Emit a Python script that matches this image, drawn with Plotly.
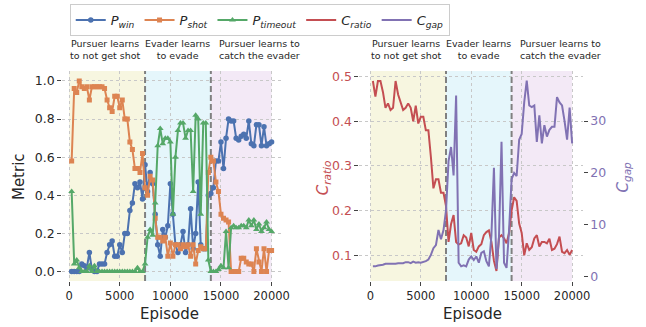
import plotly.graph_objects as go

# ---------------- data ----------------
episodes = list(range(250, 20001, 250))

p_win = [0.00, 0.00, 0.00, 0.00, 0.04, 0.03, 0.02, 0.10, 0.01, 0.00,
         0.00, 0.04, 0.04, 0.04, 0.10, 0.14, 0.16, 0.08, 0.08, 0.14,
         0.10, 0.20, 0.20, 0.32, 0.36, 0.46, 0.44, 0.47, 0.38, 0.56,
         0.42, 0.52, 0.46, 0.30, 0.14, 0.08, 0.22, 0.18, 0.24, 0.46,
         0.30, 0.14, 0.10, 0.14, 0.21, 0.10, 0.14, 0.33, 0.12, 0.20,
         0.47, 0.14, 0.12, 0.12, 0.40, 0.41, 0.44, 0.58, 0.58, 0.68,
         0.54, 0.70, 0.80, 0.79, 0.79, 0.70, 0.69, 0.71, 0.72, 0.70,
         0.79, 0.67, 0.66, 0.77, 0.77, 0.66, 0.76, 0.66, 0.67, 0.68]

p_shot = [0.58, 0.96, 0.94, 1.00, 0.97, 0.96, 0.97, 0.90, 0.97, 0.97,
          0.97, 0.97, 0.97, 0.96, 0.90, 0.86, 0.84, 0.92, 0.92, 0.86,
          0.90, 0.80, 0.80, 0.68, 0.64, 0.54, 0.54, 0.52, 0.62, 0.44,
          0.40, 0.50, 0.48, 0.28, 0.18, 0.18, 0.16, 0.18, 0.08, 0.15,
          0.08, 0.14, 0.14, 0.12, 0.14, 0.13, 0.14, 0.08, 0.14, 0.04,
          0.11, 0.13, 0.12, 0.12, 0.52, 0.60, 0.58, 0.47, 0.42, 0.30,
          0.28, 0.27, 0.26, 0.00, 0.00, 0.00, 0.00, 0.07, 0.07, 0.05,
          0.04, 0.04, 0.00, 0.12, 0.05, 0.00, 0.12, 0.00, 0.11, 0.11]

p_timeout = [0.42, 0.04, 0.06, 0.02, 0.00, 0.00, 0.00, 0.03, 0.00, 0.03,
             0.00, 0.00, 0.00, 0.00, 0.00, 0.00, 0.00, 0.00, 0.00, 0.00,
             0.00, 0.00, 0.00, 0.00, 0.00, 0.00, 0.02, 0.00, 0.00, 0.04,
             0.18, 0.22, 0.19, 0.36, 0.66, 0.75, 0.67, 0.70, 0.70, 0.68,
             0.30, 0.60, 0.74, 0.78, 0.78, 0.70, 0.74, 0.74, 0.42, 0.82,
             0.80, 0.30, 0.78, 0.78, 0.06, 0.00, 0.00, 0.00, 0.01, 0.03,
             0.02, 0.21, 0.02, 0.23, 0.24, 0.23, 0.23, 0.24, 0.24, 0.23,
             0.27, 0.24, 0.27, 0.22, 0.25, 0.21, 0.23, 0.26, 0.22, 0.21]

c_ratio = [0.49, 0.455, 0.49, 0.49, 0.465, 0.43, 0.44, 0.425, 0.43, 0.49,
           0.46, 0.44, 0.425, 0.43, 0.44, 0.43, 0.40, 0.435, 0.395, 0.41,
           0.41, 0.38, 0.38, 0.32, 0.25, 0.27, 0.27, 0.24, 0.24, 0.21,
           0.13, 0.17, 0.19, 0.13, 0.124, 0.127, 0.145, 0.14, 0.12, 0.15,
           0.112, 0.108, 0.12, 0.125, 0.145, 0.152, 0.156, 0.13, 0.088, 0.065,
           0.14, 0.145, 0.138, 0.127, 0.15, 0.20, 0.23, 0.222, 0.171, 0.15,
           0.10, 0.127, 0.112, 0.118, 0.138, 0.145, 0.12, 0.13, 0.13, 0.127,
           0.137, 0.112, 0.115, 0.125, 0.142, 0.108, 0.105, 0.112, 0.101, 0.112]

c_gap = [2.0, 2.0, 2.15, 2.2, 2.3, 2.5, 2.5, 2.4, 2.45, 2.5,
         2.6, 2.6, 2.6, 2.8, 2.8, 2.6, 2.9, 2.7, 2.8, 2.7,
         2.8, 3.0, 3.3, 4.2, 5.5, 6.1, 9.0, 7.2, 9.0, 12.8,
         22.3, 25.0, 19.5, 34.9, 2.7, 2.0, 2.2, 2.0, 3.3, 3.9,
         3.2, 3.9, 2.7, 4.6, 4.9, 3.0, 2.0, 8.0, 21.0, 1.5,
         7.7, 26.0, 2.7, 1.7, 9.0, 18.8, 20.0, 19.4, 26.4, 27.5,
         33.6, 37.8, 33.0, 32.7, 33.0, 26.0, 31.1, 25.7, 29.2, 27.0,
         28.3, 28.9, 28.9, 34.6, 33.6, 33.0, 30.0, 26.4, 32.6, 25.7]

phase_bounds = [0, 7500, 14000, 20000]
phase_labels = ["Pursuer learns<br>to not get shot",
                "Evader learns<br>to evade",
                "Pursuer learns to<br>catch the evader"]
phase_label_x = [3600, 10750, 18800]
phase_colors = ["rgba(247,246,224,1)", "rgba(229,246,251,1)", "rgba(243,233,246,1)"]

x_ticks = [0, 5000, 10000, 15000, 20000]
x_ticktext = ["0", "5000", "10000", "15000", "20000"]
metric_ticks = [0.0, 0.2, 0.4, 0.6, 0.8, 1.0]
metric_ticktext = ["0.0", "0.2", "0.4", "0.6", "0.8", "1.0"]
ratio_ticks = [0.1, 0.2, 0.3, 0.4, 0.5]
ratio_ticktext = ["0.1", "0.2", "0.3", "0.4", "0.5"]
gap_ticks = [0, 10, 20, 30]
gap_ticktext = ["0", "10", "20", "30"]

# ---------------- styling ----------------
W, H = 646, 327
BLUE, ORANGE, GREEN, RED, PURPLE = "#4C72B0", "#DD8452", "#55A868", "#C44E52", "#8172B3"
TXT = "#262626"
FONT = "DejaVu Sans"

def px_x(p):
    return p / W

def px_y(p):
    return 1 - p / H

ydom = [px_y(283.3), px_y(70)]

fig = go.Figure()

fig.add_trace(go.Scatter(x=episodes, y=p_win, mode="lines+markers", name="<i>P</i><sub><i>win</i></sub>",
                         line=dict(color=BLUE, width=2), marker=dict(symbol="circle", size=5.5, color=BLUE),
                         xaxis="x", yaxis="y"))
fig.add_trace(go.Scatter(x=episodes, y=p_shot, mode="lines+markers", name="<i>P</i><sub><i>shot</i></sub>",
                         line=dict(color=ORANGE, width=2), marker=dict(symbol="square", size=5, color=ORANGE),
                         xaxis="x", yaxis="y"))
fig.add_trace(go.Scatter(x=episodes, y=p_timeout, mode="lines+markers", name="<i>P</i><sub><i>timeout</i></sub>",
                         line=dict(color=GREEN, width=2), marker=dict(symbol="triangle-up", size=6, color=GREEN),
                         xaxis="x", yaxis="y"))
fig.add_trace(go.Scatter(x=episodes, y=c_ratio, mode="lines", name="<i>C</i><sub><i>ratio</i></sub>",
                         line=dict(color=RED, width=2), xaxis="x2", yaxis="y2"))
fig.add_trace(go.Scatter(x=episodes, y=c_gap, mode="lines", name="<i>C</i><sub><i>gap</i></sub>",
                         line=dict(color=PURPLE, width=2), xaxis="x2", yaxis="y3"))

shapes = []
annotations = []
for xr, yr in (("x", "y domain"), ("x2", "y2 domain")):
    for i in range(3):
        shapes.append(dict(type="rect", xref=xr, yref=yr, x0=phase_bounds[i], x1=phase_bounds[i + 1],
                           y0=0, y1=1, fillcolor=phase_colors[i], line=dict(width=0), layer="below"))
    for b in phase_bounds[1:3]:
        shapes.append(dict(type="line", xref=xr, yref=yr, x0=b, x1=b, y0=0, y1=1,
                           line=dict(color="#808080", width=2, dash="6px,3px"), layer="below"))
    for lab, lx in zip(phase_labels, phase_label_x):
        annotations.append(dict(text=lab, xref=xr, yref="paper", x=lx, y=px_y(48.5), xanchor="center",
                                yanchor="middle", showarrow=False, align="center",
                                font=dict(family=FONT, size=9.5, color=TXT)))

annotations += [
    dict(text="Metric", xref="paper", yref="paper", x=px_x(20), y=px_y(177), textangle=-90,
         xanchor="center", yanchor="middle", showarrow=False, font=dict(family=FONT, size=15, color=TXT)),
    dict(text="Episode", xref="paper", yref="paper", x=px_x(172), y=px_y(317),
         xanchor="center", yanchor="middle", showarrow=False, font=dict(family=FONT, size=15, color=TXT)),
    dict(text="Episode", xref="paper", yref="paper", x=px_x(478), y=px_y(317),
         xanchor="center", yanchor="middle", showarrow=False, font=dict(family=FONT, size=15, color=TXT)),
    dict(text="<i>C</i><sub><i>ratio</i></sub>", xref="paper", yref="paper", x=px_x(327), y=px_y(178),
         xanchor="center", yanchor="middle", textangle=-90, showarrow=False,
         font=dict(family=FONT, size=15, color=RED)),
    dict(text="<i>C</i><sub><i>gap</i></sub>", xref="paper", yref="paper", x=px_x(631), y=px_y(178),
         xanchor="center", yanchor="middle", textangle=-90, showarrow=False,
         font=dict(family=FONT, size=15, color=PURPLE)),
]

grid = dict(showgrid=True, gridcolor="#c8c8c8", gridwidth=0.8, griddash="dot", zeroline=False,
            showline=False, ticks="outside", ticklen=4, tickcolor="#444", tickwidth=1)

fig.update_layout(
    width=W, height=H, margin=dict(l=0, r=0, t=0, b=0),
    paper_bgcolor="white", plot_bgcolor="white",
    font=dict(family=FONT, color=TXT),
    showlegend=True,
    legend=dict(orientation="h", x=px_x(263), xanchor="center", y=px_y(2), yanchor="top",
                bordercolor="#cccccc", borderwidth=1, bgcolor="white",
                font=dict(family=FONT, size=13, color=TXT), itemwidth=30),
    xaxis=dict(domain=[px_x(63), px_x(285)], range=[-683, 20976], tickvals=x_ticks, ticktext=x_ticktext,
               tickfont=dict(size=11.5), anchor="y", **grid),
    yaxis=dict(domain=ydom, range=[-0.0496, 1.0527], tickvals=metric_ticks, ticktext=metric_ticktext,
               tickfont=dict(size=12.5), anchor="x", **grid),
    xaxis2=dict(domain=[px_x(364), px_x(590)], range=[-1077, 21047], tickvals=x_ticks, ticktext=x_ticktext,
                tickfont=dict(size=11.5), anchor="y2", **grid),
    yaxis2=dict(domain=ydom, range=[0.0427, 0.5126], tickvals=ratio_ticks, ticktext=ratio_ticktext,
                tickfont=dict(size=12.5, color=RED), anchor="x2", **grid),
    yaxis3=dict(domain=ydom, range=[-0.82, 39.66], tickvals=gap_ticks, ticktext=gap_ticktext,
                overlaying="y2", side="right", anchor="x2", tickfont=dict(size=12.5, color=PURPLE),
                showgrid=False, zeroline=False, showline=False, ticks="outside", ticklen=4,
                tickcolor="#444", tickwidth=1),
    shapes=shapes,
    annotations=annotations,
)

post = """
var st = document.createElement('style');
st.innerHTML = 'html,body{margin:0!important;padding:0!important;overflow:hidden!important;}';
document.head.appendChild(st);
"""

fig.write_html("out.html", config={"displayModeBar": False}, post_script=post)
